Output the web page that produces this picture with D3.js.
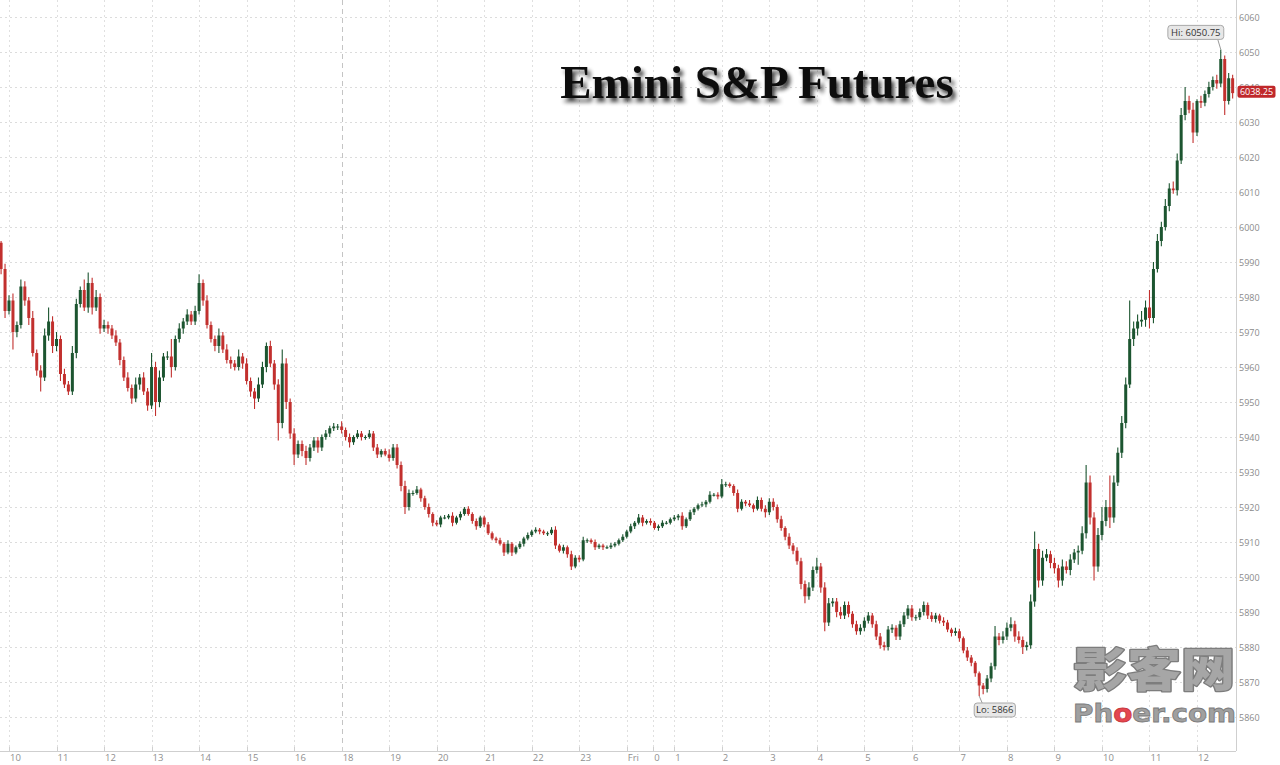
<!DOCTYPE html>
<html><head><meta charset="utf-8">
<script src="https://cdn.jsdelivr.net/npm/d3@7"></script>
<style>html,body{margin:0;padding:0;background:#fff;}svg{display:block;}</style>
</head><body>
<svg id="chart" width="1280" height="765"></svg>
<script>
// ---- DATA (5-minute candles, Thu 09:50 -> Fri 12:45, 17:00 hour skipped) ----
const firstOpen = 5995.5;
const closes = [
5988,5976,
5979,5970,5972,5983,5979,5974,5964,5959,5957,5969,5973,5966,
5968,5958,5955,5953,5964,5978,5982,5977,5984,5977,5980,5971,
5972,5971,5969,5967,5962,5957,5954,5951,5955,5957,5953,5949,
5960,5950,5957,5963,5963,5960,5968,5971,5973,5975,5973,5976,
5984,5979,5972,5968,5966,5969,5965,5962,5961,5960,5963,5961,
5956,5953,5951,5955,5960,5966,5961,5955,5944,5961,5950,5941,
5935,5938,5936,5934,5937,5939,5937,5940,5941,5942.5,5943,5943,
5942,5940,5938.5,5940,5941,5940,5940,5941,5937,5935,5936,5935,
5934,5937,5932,5926,5920,5924,5924,5925,5922.5,5920,5918,5915.5,
5915,5917,5917,5917.5,5915.5,5917,5918,5919.5,5918,5916,5914.5,5917,
5915,5912.5,5911,5910.5,5909.5,5907,5909.5,5907,5908.5,5909.5,5911,5912,
5913,5913.5,5913,5912.5,5912.5,5913.5,5909,5907.5,5908.5,5906.5,5903,5905.5,
5905,5910.5,5910.5,5910,5908.5,5909,5908.5,5908.5,5909,5909.5,5910.5,5911.5,
5913,5914.5,5915.5,5917,5915.5,5916,5915.5,5914,5914.5,5915.5,5915.5,5916.5,
5917,5917.5,5914.5,5916.5,5918.5,5919.5,5920.5,5920.75,5921.5,5923.5,5923.5,5923,
5926.5,5926.5,5926,5924,5919.5,5921.5,5921,5920.5,5919.5,5922,5919.5,5918.5,
5921.5,5920,5916.5,5914,5911.5,5909,5907.5,5904.5,5898,5894.5,5897,5902,
5903,5897,5887,5892.5,5893,5890,5889,5892,5889.5,5886.5,5884.5,5885.5,
5887.5,5889,5886.5,5883,5880.5,5880,5885,5885.5,5883,5886.5,5889,5891,
5888.5,5888.5,5890,5892,5889,5888,5889,5887.5,5887,5885,5884,5884.5,
5882.5,5879,5877,5875.5,5872.5,5869,5868,5871,5874.5,5883,5882,5883,
5885.5,5886.5,5883,5882,5880,5880.5,5893,5908,5899,5905.5,5906.5,5904,
5902.5,5899,5903,5902,5905,5907,5907.5,5912.5,5927,5917,5903,5912,
5916,5920,5917,5927,5935.5,5944,5955,5968,5971,5973,5973.5,5977,
5974,5988,5996,6000,6006,6011,6010.5,6019,6032,6036,6033.5,6027,
6036,6035.5,6038,6040,6042,6041,6048,6036,6042.5,6038.25
];
const wickUp = [
0.5,1.5,
1.5,2,1,2,1.5,1,2,1,1.5,2,4,1.5,
2,1,1.5,1,2,1.5,1,3,3,1.5,2,1,
1.5,1,1,1.5,1,1,1.5,1,2,1,1.5,1,
4,1.5,2,1,1.5,5,1,1.5,1,1.5,1,1.5,
2.5,1,1.5,1,1,2,1,1.5,1,1,2,1,
1.5,1,1,2,1.5,1,1.5,1,1.5,4,1.5,1,
1.5,1,1,1.5,1,1,1,0.75,1,0.75,1,0.75,
1.5,0.75,1,0.5,1,0.75,0.5,1,0.75,1,0.5,0.75,
1.5,1,1,1,1.5,1,0.75,1,0.5,0.75,1,0.5,
0.75,0.5,0.75,0.5,1,0.5,0.75,0.5,0.75,0.5,0.75,0.5,
0.5,0.75,0.5,0.5,0.75,0.5,1,0.5,0.5,0.75,0.5,0.75,
0.5,0.75,0.5,0.5,0.5,0.75,1,0.5,0.75,0.5,1,0.75,
0.75,1,0.5,0.5,0.75,0.5,0.5,0.5,0.75,0.5,0.5,0.75,
0.5,0.75,0.5,1,0.75,0.5,0.75,0.5,0.5,0.75,0.5,0.5,
0.75,0.5,1,0.5,0.75,0.5,0.5,0.75,0.5,1,0.5,0.75,
1.5,0.75,0.5,0.5,1,0.75,0.5,1,0.5,1,0.75,1,
1,1,0.75,1,0.5,1,0.75,1,1,1,1.5,1,
2.5,1,1.5,1.5,1,1,1.5,1,1,0.75,1,1,
1,1,0.75,1,1,1,1,1,0.75,1,1,1,
1,0.75,1,1,0.75,1,0.75,0.5,1,0.75,0.5,1,
0.75,0.5,1,0.75,0.5,0.5,0.75,1,1,3,1,1.5,
1.5,2,1,1.5,1,1,2,5,1.5,2,1.5,1,
1.5,1,2,1.5,1.5,1,1.5,2,5,2,1.5,2,
4,2,9,2,1.5,2,2,11,2,2,2.5,2,
5,2,2,1.5,2,1.5,2,2,2,4,1.5,2,
0.5,1.5,1,1.5,1,1.5,2.75,1,1.5,1
];
const wickDn = [
1.5,2,
1,5,1.5,1,1.5,2,1,1.5,4,1,1.5,2,
1.5,2,1,1,1,1.5,1,1,1.5,2,1,1.5,
1,1.5,1,1,1.5,1,1,1.5,1,1.5,1,1.5,
1,4,1.5,1,1,3,1,1,1.5,1,1,1,
1,1.5,1,1,1.5,2,1,1,1.5,1,1,1.5,
1,1.5,3,1,1,1.5,1,1.5,5,1.5,2,1.5,
3,1,1.5,2,1,1,1.5,1,0.75,1,0.75,1,
1,1,1.5,0.75,0.5,1,0.75,0.5,1,1,0.75,0.5,
1,0.75,1,1.5,2,1,0.75,0.5,1,0.75,1,1,
0.5,0.75,0.5,0.5,1,0.5,0.75,0.5,0.5,0.75,1,0.5,
0.75,0.5,0.5,0.75,0.5,1,0.5,1,0.5,0.5,0.75,0.5,
0.5,0.5,0.75,0.5,0.75,0.5,1,0.5,0.75,1,1,0.5,
0.75,0.5,0.75,0.5,0.75,0.5,0.75,0.5,0.5,0.5,0.5,0.5,
0.5,0.5,0.75,0.5,1,0.5,0.75,0.5,0.75,0.5,0.5,0.5,
0.5,0.75,1,0.5,0.5,0.75,0.5,0.5,0.75,0.5,0.5,0.75,
0.5,0.75,0.5,0.75,1,0.5,0.75,0.5,1,0.5,0.75,1.5,
0.75,1,1,0.75,1,1,1,1,1.5,2,1,1,
1,1.5,2.5,1,1,1.5,1,1,1,1,1,1,
1,0.75,1,1,1,1,1,1,1,1,0.75,1,
1,1,0.75,1,1,0.75,1,0.75,1,0.75,1,0.75,
1,0.75,1,1,1,3,1.5,1,1,1,1.5,1,
1,1,1.5,1,2,1,1,1.5,2,1.5,1,1.5,
1.5,2,1.5,1,1.5,1,3.5,1,1.5,2,4,1.5,
1.5,1.5,3,1.5,1,1.5,1.5,1,2,2,1.5,2,
3,1.5,1,1.5,1,1.5,1,1.5,1,1.5,1,3,
1,1.5,1,1,1,1.5,1,4,1,1.5
];
const firstBarHour = -2/12;     // first bar at 09:50
const barsPerHour = 12;
const tickHours  = [0,1,2,3,4,5,6,7,8,9,10,11,12,13,13.56,14,15,16,17,18,19,20,21,22,23,24,25];
const tickLabels = ["10","11","12","13","14","15","16","18","19","20","21","22","23","Fri","0","1","2","3","4","5","6","7","8","9","10","11","12"];
const sessionBreakHour = 7;
const yTickValues = [5860,5870,5880,5890,5900,5910,5920,5930,5940,5950,5960,5970,5980,5990,6000,6010,6020,6030,6040,6050,6060];
const titleText = "Emini S&P Futures";

// ---- CHART ----
const svg = d3.select("#chart");
const W = 1280, H = 765;
const plotRight = 1236, plotBottom = 751;
const x = d3.scaleLinear().domain([0, 25]).range([9, 1197]);
const y = d3.scaleLinear().domain([5860, 6060]).range([717, 17]);

svg.append("rect").attr("width", W).attr("height", H).attr("fill", "#fff");

const defs = svg.append("defs");
defs.append("clipPath").attr("id", "plotclip").append("rect")
  .attr("x", 0).attr("y", 0).attr("width", plotRight).attr("height", plotBottom);
const sh = defs.append("filter").attr("id", "tshadow").attr("x", "-10%").attr("y", "-30%").attr("width", "120%").attr("height", "170%");
sh.append("feGaussianBlur").attr("in", "SourceAlpha").attr("stdDeviation", 2.2).attr("result", "b");
sh.append("feOffset").attr("in", "b").attr("dx", 3).attr("dy", 4).attr("result", "o");
sh.append("feComponentTransfer").attr("in", "o").attr("result", "oc")
  .append("feFuncA").attr("type", "linear").attr("slope", 0.75);
const m = sh.append("feMerge");
m.append("feMergeNode").attr("in", "oc");
m.append("feMergeNode").attr("in", "SourceGraphic");

// grid
const grid = svg.append("g");
grid.selectAll("line.h").data(yTickValues).join("line")
  .attr("x1", 0).attr("x2", plotRight)
  .attr("y1", d => Math.round(y(d)) + 0.5).attr("y2", d => Math.round(y(d)) + 0.5)
  .attr("stroke", "#dcdcdc").attr("stroke-dasharray", "2,3").attr("stroke-width", 1);
grid.selectAll("line.v").data(tickHours.filter(h => h !== sessionBreakHour)).join("line")
  .attr("x1", d => Math.round(x(d)) + 0.5).attr("x2", d => Math.round(x(d)) + 0.5)
  .attr("y1", 0).attr("y2", plotBottom)
  .attr("stroke", "#e0e0e0").attr("stroke-dasharray", "2,3").attr("stroke-width", 1);
grid.append("line")
  .attr("x1", Math.round(x(sessionBreakHour)) + 0.5).attr("x2", Math.round(x(sessionBreakHour)) + 0.5)
  .attr("y1", 0).attr("y2", plotBottom)
  .attr("stroke", "#c4c4c4").attr("stroke-dasharray", "5,4").attr("stroke-width", 1);

// title
svg.append("text").attr("x", 757).attr("y", 98).attr("text-anchor", "middle")
  .attr("font-family", "'Liberation Serif','Times New Roman',serif").attr("font-weight", "bold")
  .attr("font-size", 47).attr("fill", "#0a0a0a").attr("filter", "url(#tshadow)")
  .text(titleText);

// candles
const candles = closes.map((c, i) => {
  const o = i === 0 ? firstOpen : closes[i - 1];
  return { t: firstBarHour + i / barsPerHour, o, c,
           hi: Math.max(o, c) + wickUp[i], lo: Math.min(o, c) - wickDn[i] };
});
const upCol = "#1c5530", dnCol = "#c2302e";
const cg = svg.append("g").attr("clip-path", "url(#plotclip)");
cg.selectAll("line.w").data(candles).join("line")
  .attr("x1", d => x(d.t)).attr("x2", d => x(d.t))
  .attr("y1", d => y(d.hi)).attr("y2", d => y(d.lo))
  .attr("stroke", d => d.c >= d.o ? upCol : dnCol).attr("stroke-width", 1.1);
cg.selectAll("rect.b").data(candles).join("rect")
  .attr("x", d => x(d.t) - 1.5).attr("width", 3)
  .attr("y", d => y(Math.max(d.o, d.c)))
  .attr("height", d => Math.max(1, Math.abs(y(d.o) - y(d.c))))
  .attr("fill", d => d.c >= d.o ? upCol : dnCol);

// axes frame
svg.append("line").attr("x1", plotRight + 0.5).attr("x2", plotRight + 0.5).attr("y1", 0).attr("y2", plotBottom)
  .attr("stroke", "#cfcfcf");
svg.append("line").attr("x1", 0).attr("x2", plotRight).attr("y1", plotBottom + 0.5).attr("y2", plotBottom + 0.5)
  .attr("stroke", "#cfcfcf");

// y axis labels
svg.append("g").selectAll("text").data(yTickValues).join("text")
  .attr("x", plotRight + 3).attr("y", d => y(d) + 3.5)
  .attr("font-family", "'Open Sans','DejaVu Sans',sans-serif").attr("font-size", 9)
  .attr("fill", "#8a8a8a").text(d => d);

// x axis ticks + labels
const xa = svg.append("g");
xa.selectAll("line").data(tickHours).join("line")
  .attr("x1", d => Math.round(x(d)) + 0.5).attr("x2", d => Math.round(x(d)) + 0.5)
  .attr("y1", plotBottom - 4).attr("y2", plotBottom)
  .attr("stroke", "#cfcfcf");
xa.selectAll("text").data(tickHours).join("text")
  .attr("x", d => x(d) + 1).attr("y", 761)
  .attr("font-family", "'Open Sans','DejaVu Sans',sans-serif").attr("font-size", 9.5)
  .attr("fill", "#8f8f8f").text((d, i) => tickLabels[i]);

// Hi / Lo callouts
const hiC = candles.reduce((a, b) => b.hi > a.hi ? b : a);
const loC = candles.reduce((a, b) => b.lo < a.lo ? b : a);
function callout(cd, val, label, above) {
  const g = svg.append("g");
  const cx = x(cd.t), cy = y(val);
  const bw = label.length * 4.9 + 2, bh = 14;
  const bx = above ? cx - bw + 3 : cx - 5;
  const by = above ? cy - 24 : cy + 7;
  g.append("line").attr("x1", cx).attr("y1", cy).attr("x2", above ? cx - 3 : cx + 3).attr("y2", above ? by + bh : by)
    .attr("stroke", "#9a9a9a");
  g.append("rect").attr("x", bx).attr("y", by).attr("width", bw).attr("height", bh).attr("rx", 3)
    .attr("fill", "#e7e7e7").attr("stroke", "#a8a8a8");
  g.append("text").attr("x", bx + bw / 2).attr("y", by + 10.3).attr("text-anchor", "middle")
    .attr("font-family", "'Open Sans','DejaVu Sans',sans-serif").attr("font-size", 9.5)
    .attr("fill", "#333").text(label);
}
callout(hiC, hiC.hi, "Hi: " + hiC.hi, true);
callout(loC, loC.lo, "Lo: " + loC.lo, false);

// last price tag (drawn over the 6040 label like the reference)
const last = candles[candles.length - 1];
const ly = y(last.c) - 1.5;
svg.append("rect").attr("x", plotRight + 1.5).attr("y", ly - 6).attr("width", 38).attr("height", 12).attr("rx", 2)
  .attr("fill", "#c0282b");
svg.append("text").attr("x", plotRight + 20.5).attr("y", ly + 3.3).attr("text-anchor", "middle")
  .attr("font-family", "'Open Sans','DejaVu Sans',sans-serif").attr("font-size", 9)
  .attr("fill", "#fff").text(last.c.toFixed(2));

// watermark
const wm = svg.append("g");
wm.append("text").attr("x", 1073).attr("y", 686).attr("textLength", 162).attr("lengthAdjust", "spacingAndGlyphs")
  .attr("font-family", "'Noto Sans CJK SC'").attr("font-weight", 900).attr("font-size", 46)
  .attr("fill", "#a6a6a6").attr("stroke", "#7d7d7d").attr("stroke-width", 2.5).attr("stroke-linejoin", "round")
  .attr("paint-order", "stroke")
  .text("影客网");
const pt = wm.append("text").attr("x", 1073).attr("y", 722).attr("textLength", 163).attr("lengthAdjust", "spacingAndGlyphs")
  .attr("font-family", "'DejaVu Sans'").attr("font-weight", "bold").attr("font-size", 24)
  .attr("fill", "#a0a0a0").attr("stroke", "#7c7c7c").attr("stroke-width", 0.8);
pt.append("tspan").text("Ph");
pt.append("tspan").attr("fill", "#e5474f").attr("stroke", "#c93a41").text("o");
pt.append("tspan").text("er.com");
</script>
</body></html>
